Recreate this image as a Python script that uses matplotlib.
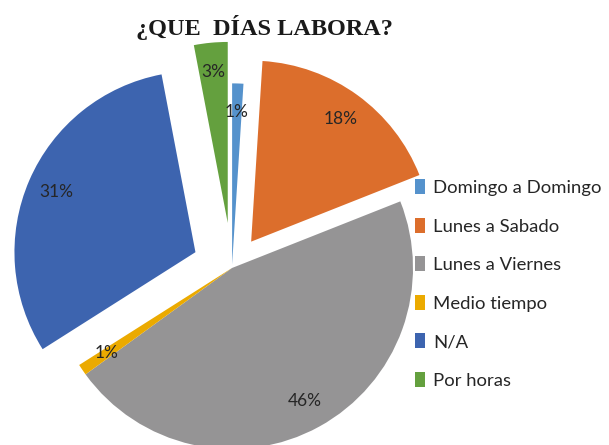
import matplotlib
matplotlib.use("Agg")
import matplotlib.pyplot as plt

categories = ["Domingo a Domingo", "Lunes a Sabado", "Lunes a Viernes",
              "Medio tiempo", "N/A", "Por horas"]
values = [1, 18, 46, 1, 31, 3]
explode = [0.02, 0.18, 0.0, 0.0, 0.22, 0.25]
colors = ["#5592CC", "#DC6E2C", "#959495", "#EBAA00", "#3D64AF", "#64A03E"]
title = "¿QUE  DÍAS LABORA?"

W, H = 609, 445
R = 181
fig = plt.figure(figsize=(W / 100, H / 100), dpi=100)
ax = fig.add_axes([0, 0, 1, 1])

wedges, texts, autotexts = ax.pie(
    values, explode=[e * R for e in explode], colors=colors, startangle=90,
    counterclock=False, center=(232, H - 268), radius=R, autopct="%1.0f%%",
    pctdistance=0.84, wedgeprops=dict(linewidth=0), frame=True,
    textprops=dict(fontsize=12.5, family=["Lato", "DejaVu Sans"], color="#262626"))
ax.set_xlim(0, W)
ax.set_ylim(0, H)
ax.set_aspect("equal")
ax.axis("off")

fig.text(265 / W, 1 - 27 / H, title, ha="center", va="center",
         fontsize=17.5, fontweight="bold", family=["Liberation Serif"], color="#1a1a1a")

leg = ax.legend(wedges, categories, loc="center left",
                bbox_to_anchor=(415 / W, 1 - 284 / H), frameon=False,
                prop=dict(family=["Lato", "DejaVu Sans"], size=13.3),
                labelcolor="#262626", handlelength=0.55, handleheight=0.85,
                handletextpad=0.45, labelspacing=1.18, borderpad=0,
                borderaxespad=0)

fig.savefig("out.png", dpi=100)
